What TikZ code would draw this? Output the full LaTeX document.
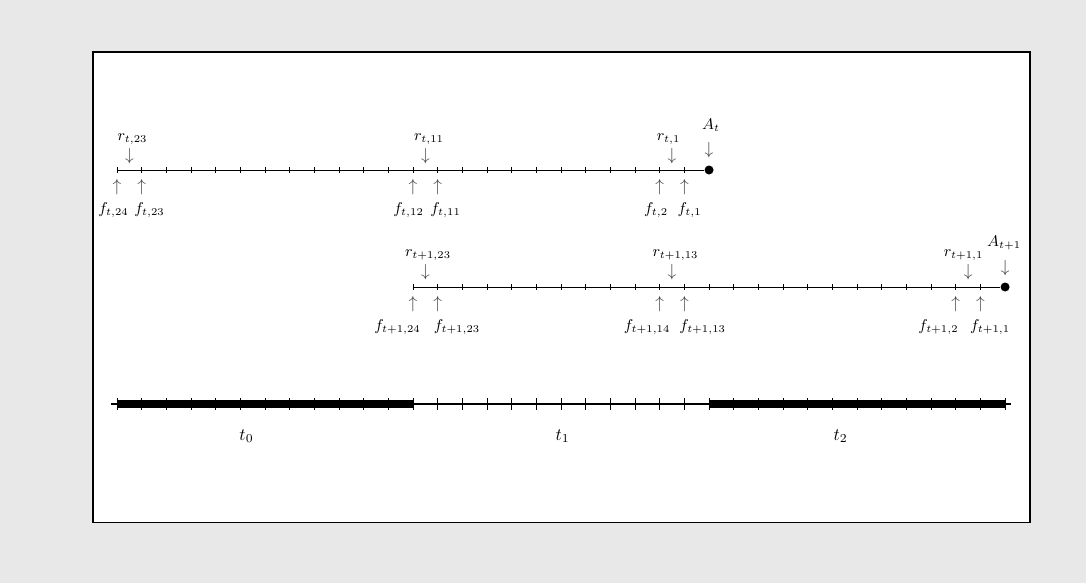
\documentclass[tikz,border=0pt]{standalone}
\begin{document}
\begin{tikzpicture}[x=0.5cm,y=0.5cm,
  lab/.style={font=\small, inner sep=0pt},
  arrglyph/.style={inner sep=0pt, text=black!75},
  tlab/.style={inner sep=0pt},
  dotnode/.style={circle, fill=black, inner sep=0pt, minimum size=0.365cm*0.5},
  tick/.style={line width=0.4pt}]
\definecolor{bgray}{RGB}{232,232,232}
\useasboundingbox[fill=bgray] (-4.743,-16.74) rectangle (39.28,6.891);
\draw[fill=white, line width=0.6pt] (-0.973,-14.27) rectangle (37.01,4.783);

% ---------- top line ----------
\coordinate (S1) at (0,0);
\node[dotnode] (At) at (24,0) {};
\draw[line width=0.5pt] (S1) -- (At);
\foreach \i in {0,...,23} \draw[tick] (\i,0.12) -- (\i,-0.12);
\node[lab] (AtL) at (24.08,1.82) {$A_t$};
\node[arrglyph] (AtA) at (24,0.81) {$\downarrow$};
\foreach \x/\lx/\k/\n in {0.5/0.63/23/ra, 12.5/12.65/11/rb, 22.5/22.36/1/rc} {
  \node[lab] (\n L) at (\lx,1.257) {$r_{t,\k}$};
  \node[arrglyph] (\n A) at (\x,0.567) {$\downarrow$};
}
\foreach \x/\lx/\k/\n in {0/-0.14/24/fa, 1/1.32/23/fb, 12/11.82/12/fc, 13/13.32/11/fd, 22/21.85/2/fe, 23/23.21/1/ff} {
  \node[arrglyph] (\n A) at (\x,-0.69) {$\uparrow$};
  \node[lab] (\n L) at (\lx,-1.62) {$f_{t,\k}$};
}

% ---------- second line ----------
\begin{scope}[yshift=-4.743*0.5cm]
\coordinate (S2) at (12,0);
\node[dotnode] (At1) at (36,0) {};
\draw[line width=0.5pt] (S2) -- (At1);
\foreach \i in {12,...,35} \draw[tick] (\i,0.12) -- (\i,-0.12);
\node[lab] (At1L) at (35.96,1.78) {$A_{t+1}$};
\node[arrglyph] (At1A) at (36,0.77) {$\downarrow$};
\foreach \x/\lx/\k/\n in {12.5/12.61/23/sa, 22.5/22.64/13/sb, 34.5/34.32/1/sc} {
  \node[lab] (\n L) at (\lx,1.3) {$r_{t+1,\k}$};
  \node[arrglyph] (\n A) at (\x,0.6) {$\downarrow$};
}
\foreach \x/\lx/\k/\n in {12/11.37/24/ga, 13/13.78/23/gb, 22/21.49/14/gc, 23/23.74/13/gd, 34/33.30/2/ge, 35/35.39/1/gf} {
  \node[arrglyph] (\n A) at (\x,-0.69) {$\uparrow$};
  \node[lab] (\n L) at (\lx,-1.62) {$f_{t+1,\k}$};
}
\end{scope}

% ---------- bottom axis ----------
\begin{scope}[yshift=-9.485*0.5cm]
\coordinate (B0) at (-0.24,0);
\coordinate (B1) at (36.24,0);
\draw[line width=1.2pt] (B0) -- (B1);
\draw[line width=4.6pt] (0,0) -- (12,0);
\draw[line width=4.6pt] (24,0) -- (36,0);
\foreach \i in {0,...,36} \draw[line width=0.4pt] (\i,0.24) -- (\i,-0.24);
\node[tlab] (T0) at (5.25,-1.3) {$t_0$};
\node[tlab] (T1) at (18.06,-1.3) {$t_1$};
\node[tlab] (T2) at (29.33,-1.3) {$t_2$};
\end{scope}
\end{tikzpicture}
\end{document}
